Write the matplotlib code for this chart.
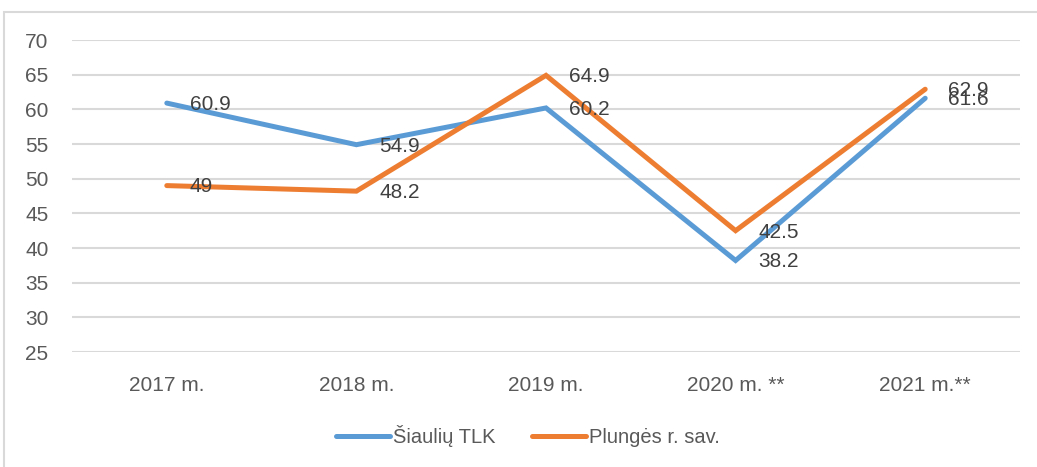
import matplotlib
matplotlib.use("Agg")
import matplotlib.pyplot as plt
from matplotlib.patches import Rectangle
from matplotlib.lines import Line2D

categories = ["2017 m.", "2018 m.", "2019 m.", "2020 m. **", "2021 m.**"]
siauliai = [60.9, 54.9, 60.2, 38.2, 61.6]
plunge = [49, 48.2, 64.9, 42.5, 62.9]
series_names = ["Šiaulių TLK", "Plungės r. sav."]
yticks = [25, 30, 35, 40, 45, 50, 55, 60, 65, 70]

blue = "#5B9BD5"
orange = "#ED7D31"
txt = "#595959"

W, H = 1037, 467
fig = plt.figure(figsize=(W / 100, H / 100), dpi=100)
plt.rcParams["font.family"] = ["Liberation Sans", "DejaVu Sans"]

# chart border
fig.patches.append(Rectangle((4 / W, -0.1), 1.2, 1 - 12 / H + 0.1, transform=fig.transFigure,
                             fill=False, edgecolor="#D9D9D9", linewidth=1.5))

ax = fig.add_axes([72 / W, 1 - 352 / H, (1020 - 72) / W, (352 - 40) / H])
x = list(range(len(categories)))
ax.plot(x, siauliai, color=blue, lw=3.6, solid_capstyle="round", solid_joinstyle="miter", zorder=3)
ax.plot(x, plunge, color=orange, lw=3.6, solid_capstyle="round", solid_joinstyle="miter", zorder=3)

ax.set_xlim(-0.5, len(categories) - 0.5)
ax.set_ylim(25, 70)
ax.set_yticks(yticks)
ax.set_xticks(x)
ax.set_xticklabels(categories)
ax.grid(axis="y", color="#D9D9D9", lw=1.5)
ax.set_axisbelow(True)
for s in ax.spines.values():
    s.set_visible(False)
ax.tick_params(length=0, labelsize=15, colors=txt)
ax.tick_params(axis="y", pad=17)
ax.tick_params(axis="x", pad=17)

for xs, v in zip(x, siauliai):
    ax.annotate(f"{v:g}", (xs, v), xytext=(16.5, -1), textcoords="offset points",
                ha="left", va="center", fontsize=15, color="#404040", zorder=4)
for xs, v in zip(x, plunge):
    ax.annotate(f"{v:g}", (xs, v), xytext=(16.5, -1), textcoords="offset points",
                ha="left", va="center", fontsize=15, color="#404040", zorder=4)

handles = [Line2D([], [], color=blue, lw=3.6, solid_capstyle="round"),
           Line2D([], [], color=orange, lw=3.6, solid_capstyle="round")]
fig.legend(handles, series_names, loc="center", bbox_to_anchor=(528 / W, 1 - 436 / H),
           ncol=2, frameon=False, fontsize=14.5, labelcolor=txt, handlelength=2.7,
           handletextpad=0.15, columnspacing=1.8)

fig.savefig("out.png", dpi=100)
